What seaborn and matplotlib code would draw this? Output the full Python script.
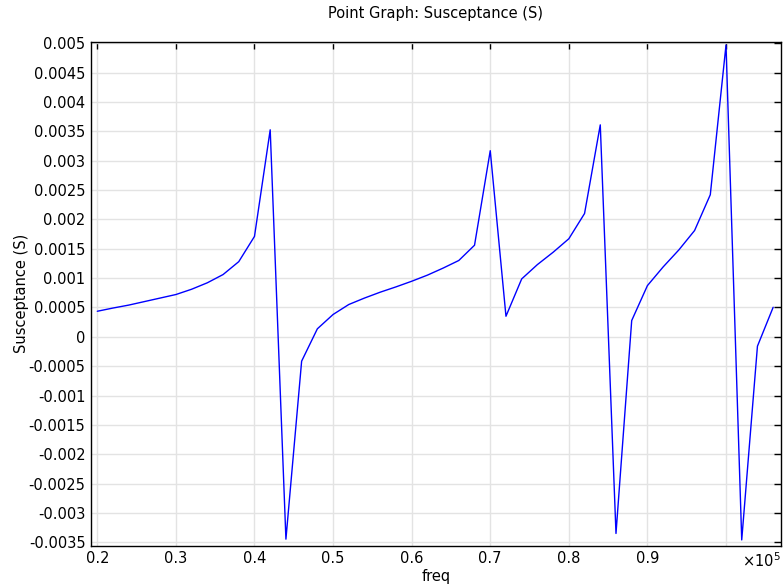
import matplotlib
matplotlib.use("Agg")
import matplotlib.pyplot as plt
import seaborn as sns
import pandas as pd
from matplotlib.ticker import FixedLocator, FixedFormatter

# Frequency sweep (in units of 1e5 Hz)
freq = [0.20, 0.22, 0.24, 0.26, 0.28, 0.30, 0.32, 0.34, 0.36, 0.38,
        0.40, 0.42, 0.44, 0.46, 0.48, 0.50, 0.52, 0.54, 0.56, 0.58,
        0.60, 0.62, 0.64, 0.66, 0.68, 0.70, 0.72, 0.74, 0.76, 0.78,
        0.80, 0.82, 0.84, 0.86, 0.88, 0.90, 0.92, 0.94, 0.96, 0.98,
        1.00, 1.02, 1.04, 1.06]
# Susceptance (S)
susceptance = [0.000435, 0.00049, 0.00054, 0.00060, 0.00066, 0.00072, 0.00081, 0.00092, 0.00106, 0.00128,
               0.00171, 0.003526, -0.003447, -0.000415, 0.000136, 0.00038, 0.00055, 0.00066, 0.00076, 0.00085,
               0.000946, 0.00105, 0.00117, 0.00130, 0.00156, 0.00317, 0.00035, 0.000986, 0.00123, 0.00144,
               0.00167, 0.00210, 0.00361, -0.00335, 0.000277, 0.000872, 0.00119, 0.00148, 0.00181, 0.00242,
               0.00497, -0.00346, -0.00016, 0.000503]

x_ticks = [0.2, 0.3, 0.4, 0.5, 0.6, 0.7, 0.8, 0.9, 1.0]
x_tick_labels = ["0.2", "0.3", "0.4", "0.5", "0.6", "0.7", "0.8", "0.9", ""]
y_ticks = [0.005, 0.0045, 0.004, 0.0035, 0.003, 0.0025, 0.002, 0.0015, 0.001, 0.0005, 0.0,
           -0.0005, -0.001, -0.0015, -0.002, -0.0025, -0.003, -0.0035]
y_tick_labels = ["0.005", "0.0045", "0.004", "0.0035", "0.003", "0.0025", "0.002", "0.0015", "0.001",
                 "0.0005", "0", "-0.0005", "-0.001", "-0.0015", "-0.002", "-0.0025", "-0.003", "-0.0035"]

sns.set_style("white")
plt.rcParams['font.family'] = ['DejaVu Sans']
plt.rcParams['axes.unicode_minus'] = False
plt.rcParams['text.color'] = 'black'
plt.rcParams['axes.labelcolor'] = 'black'

df = pd.DataFrame({"freq": freq, "Susceptance (S)": susceptance})

fig = plt.figure(figsize=(7.84, 5.87), dpi=100)
ax = fig.add_axes([0.1161, 0.0704, 0.8797, 0.8586])
sns.lineplot(data=df, x="freq", y="Susceptance (S)", ax=ax, color="#0000ff", linewidth=1.0)

ax.set_xlim(0.192, 1.0696)
ax.set_ylim(-0.003558, 0.005027)
ax.xaxis.set_major_locator(FixedLocator(x_ticks))
ax.xaxis.set_major_formatter(FixedFormatter(x_tick_labels))
ax.yaxis.set_major_locator(FixedLocator(y_ticks))
ax.yaxis.set_major_formatter(FixedFormatter(y_tick_labels))
ax.grid(True, color="#e3e3e3", linewidth=1.0)
ax.set_axisbelow(True)
ax.tick_params(direction="in", length=5, width=1, top=True, right=True,
               labelsize=10.5, colors="black", pad=4)
for s in ax.spines.values():
    s.set_color("black")
    s.set_linewidth(1.0)

ax.set_xlabel("freq", fontsize=10.5, labelpad=2, color="black")
ax.set_ylabel("Susceptance (S)", fontsize=10.5, labelpad=0, color="black")
ax.set_title("Point Graph: Susceptance (S)", fontsize=10.5, pad=17, color="black")
ax.text(1.0, -0.012, r"$\times10^5$", transform=ax.transAxes, ha="right", va="top",
        fontsize=10.5, color="black")

fig.savefig("out.png", dpi=100)
